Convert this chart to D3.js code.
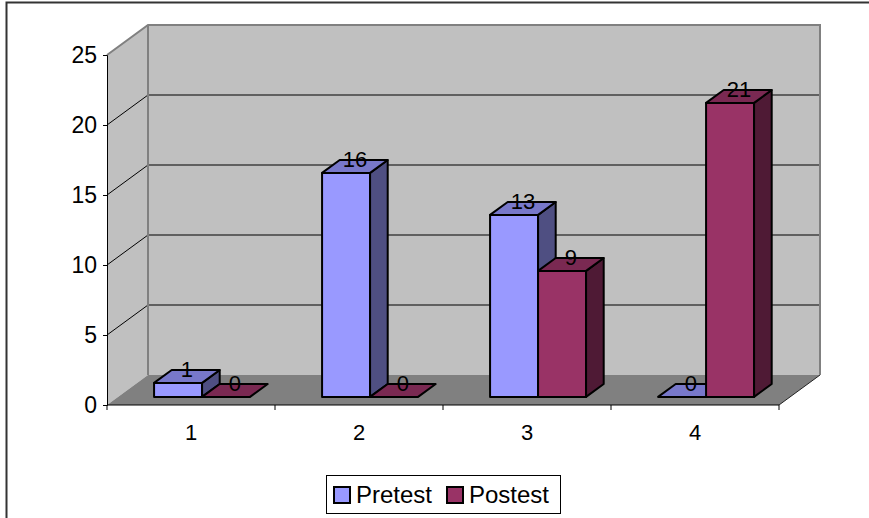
<!DOCTYPE html>
<html>
<head>
<meta charset="utf-8">
<script src="https://cdn.jsdelivr.net/npm/d3@7"></script>
<style>
  body { margin: 0; background: #fff; }
  svg { display: block; font-family: "Liberation Sans", Arial, sans-serif; }
</style>
</head>
<body>
<div id="chart"></div>
<script>
// chart data
const categories = ["1", "2", "3", "4"];
const seriesNames = ["Pretest", "Postest"];
const pretest = [1, 16, 13, 0];
const postest = [0, 0, 9, 21];
const yTicks = [0, 5, 10, 15, 20, 25];

const width = 869, height = 518;
const faceColors = {
  Pretest: { front: "#9999FF", top: "#7878CA", side: "#4F4F82" },
  Postest: { front: "#993366", top: "#7A2952", side: "#4F1A35" }
};

// 3d depth vector (back wall relative to front)
const depth = { dx: 41, dy: -30 };
const barT0 = 0.27, barT1 = 0.70;

const svg = d3.select("#chart").append("svg")
  .attr("width", width).attr("height", height);

// outer frame
svg.append("rect")
  .attr("x", 6.5).attr("y", 2.5)
  .attr("width", 900).attr("height", 560)
  .attr("fill", "#fff").attr("stroke", "#333").attr("stroke-width", 2);

const x0 = d3.scaleBand().domain(categories).range([107, 779]);
const x1 = d3.scaleBand().domain(seriesNames).range([0, x0.bandwidth()])
  .paddingInner(0).paddingOuter(0.75);
const y = d3.scaleLinear().domain([0, 25]).range([405, 55]);

const P = (px, py, t) => [px + t * depth.dx, py + t * depth.dy];
const line = d3.line();

const x0L = x0.range()[0], x0R = x0.range()[1];
const yTop = y(25), yBot = y(0);

// side wall
svg.append("path")
  .attr("d", line([[x0L, yBot], [x0L, yTop], P(x0L, yTop, 1), P(x0L, yBot, 1)]) + "Z")
  .attr("fill", "#C0C0C0");
// back wall
svg.append("path")
  .attr("d", line([P(x0L, yTop, 1), P(x0R, yTop, 1), P(x0R, yBot, 1), P(x0L, yBot, 1)]) + "Z")
  .attr("fill", "#C0C0C0");

// gridlines
yTicks.filter(v => v > 0 && v < 25).forEach(v => {
  svg.append("path")
    .attr("d", line([[x0L, y(v)], P(x0L, y(v), 1), P(x0R, y(v), 1)]))
    .attr("fill", "none").attr("stroke", "#000").attr("stroke-width", 1);
});

// floor
svg.append("path")
  .attr("d", line([[x0L, yBot], [x0R, yBot], P(x0R, yBot, 1), P(x0L, yBot, 1)]) + "Z")
  .attr("fill", "#808080");
svg.append("path")
  .attr("d", line([[x0R, yBot], P(x0R, yBot, 1)]))
  .attr("stroke", "#222").attr("stroke-width", 1);

// wall edges
svg.append("path")
  .attr("d", line([[x0L, yTop], P(x0L, yTop, 1), P(x0R, yTop, 1), P(x0R, yBot, 1)]))
  .attr("fill", "none").attr("stroke", "#808080").attr("stroke-width", 2);
svg.append("path")
  .attr("d", line([P(x0L, yTop, 1), P(x0L, yBot, 1)]))
  .attr("fill", "none").attr("stroke", "#808080").attr("stroke-width", 2);

// axes
svg.append("g")
  .attr("transform", `translate(${x0L},0)`)
  .call(d3.axisLeft(y).tickValues(yTicks).tickSize(4).tickPadding(6))
  .call(g => g.select(".domain").attr("stroke", "#000"))
  .call(g => g.selectAll("text").attr("font-size", 23).attr("fill", "#000")
    .attr("font-family", "Liberation Sans, Arial, sans-serif"));

svg.append("line")
  .attr("x1", x0L).attr("x2", x0R).attr("y1", yBot).attr("y2", yBot)
  .attr("stroke", "#000");
svg.append("g").selectAll("line")
  .data(categories.map(c => x0(c)).concat([x0R]))
  .join("line")
  .attr("x1", d => d).attr("x2", d => d)
  .attr("y1", yBot).attr("y2", yBot + 5)
  .attr("stroke", "#000");
svg.append("g").selectAll("text")
  .data(categories)
  .join("text")
  .attr("x", d => x0(d) + x0.bandwidth() / 2)
  .attr("y", 440)
  .attr("text-anchor", "middle")
  .attr("font-size", 22)
  .text(d => d);

// bars
const bars = [];
categories.forEach((c, i) => {
  bars.push({ cat: c, name: "Pretest", value: pretest[i] });
  bars.push({ cat: c, name: "Postest", value: postest[i] });
});

const barG = svg.append("g")
  .attr("stroke", "#000").attr("stroke-width", 2).attr("stroke-linejoin", "round");

bars.forEach(b => {
  const xl = x0(b.cat) + x1(b.name);
  const xr = xl + x1.bandwidth();
  const yt = y(b.value), yb = y(0);
  const col = faceColors[b.name];
  if (b.value > 0) {
    // front face
    barG.append("path")
      .attr("d", line([P(xl, yb, barT0), P(xr, yb, barT0), P(xr, yt, barT0), P(xl, yt, barT0)]) + "Z")
      .attr("fill", col.front);
    // side face
    barG.append("path")
      .attr("d", line([P(xr, yb, barT0), P(xr, yb, barT1), P(xr, yt, barT1), P(xr, yt, barT0)]) + "Z")
      .attr("fill", col.side);
  }
  // top face
  barG.append("path")
    .attr("d", line([P(xl, yt, barT0), P(xr, yt, barT0), P(xr, yt, barT1), P(xl, yt, barT1)]) + "Z")
    .attr("fill", col.top);
});

// value labels
const tMid = (barT0 + barT1) / 2;
svg.append("g").selectAll("text")
  .data(bars)
  .join("text")
  .attr("x", d => P(x0(d.cat) + x1(d.name) + x1.bandwidth() / 2, y(d.value), tMid)[0])
  .attr("y", d => P(0, y(d.value), tMid)[1] + 1)
  .attr("text-anchor", "middle")
  .attr("font-size", 22)
  .attr("fill", "#000")
  .text(d => d.value);

// legend
const legend = svg.append("g");
legend.append("rect")
  .attr("x", 326.5).attr("y", 475.5).attr("width", 234).attr("height", 38)
  .attr("fill", "#fff").attr("stroke", "#000").attr("stroke-width", 1);
const legendX = [334, 447];
seriesNames.forEach((s, i) => {
  legend.append("rect")
    .attr("x", legendX[i]).attr("y", 487).attr("width", 16).attr("height", 16)
    .attr("fill", faceColors[s].front).attr("stroke", "#000").attr("stroke-width", 2);
  legend.append("text")
    .attr("x", legendX[i] + 22).attr("y", 503)
    .attr("font-size", 24)
    .text(s);
});
</script>
</body>
</html>
